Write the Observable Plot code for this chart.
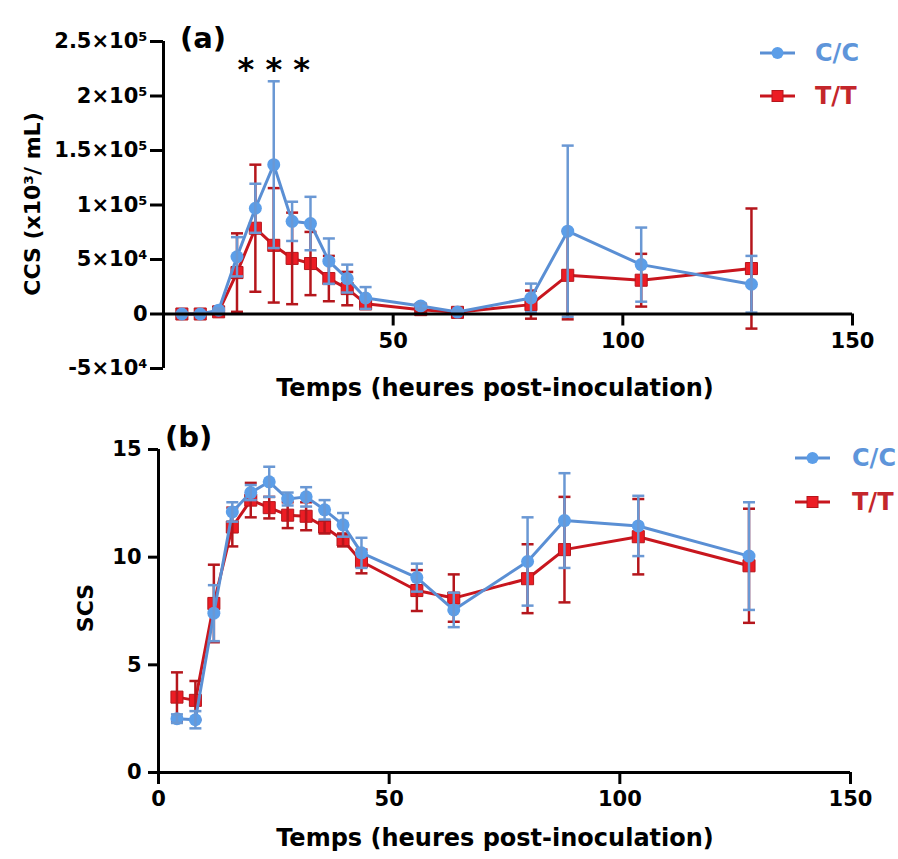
<!DOCTYPE html>
<html><head><meta charset="utf-8">
<script src="https://cdn.jsdelivr.net/npm/d3@7"></script>
<script src="https://cdn.jsdelivr.net/npm/@observablehq/plot@0.6"></script>
<style>
html,body{margin:0;padding:0;background:#fff;overflow:hidden;}
#wrap{position:relative;width:898px;height:859px;font-family:"DejaVu Sans",sans-serif;font-weight:bold;}
.abs{position:absolute;white-space:nowrap;line-height:1;}
.rot{transform:translate(-50%,-50%) rotate(-90deg);}
.ctr{transform:translate(-50%,-50%);}
.vmid{transform:translateY(-50%);}
</style></head><body>
<div id="wrap">
  <div id="pa" class="abs" style="left:0;top:0"></div>
  <div id="pb" class="abs" style="left:0;top:400px"></div>
</div>
<script>
// ---------- data ----------
const times = [4, 8, 12, 16, 20, 24, 28, 32, 36, 40, 44, 56, 64, 80, 88, 104, 128];
const series = ["C/C", "T/T"];

// Panel (a) CCS
const ccsCCMean = [0, 0, 3500, 52500, 97000, 137000, 85000, 83000, 48500, 32500, 14700, 7400, 1800, 14700, 76000, 45300, 27300];
const ccsCCSd   = [800, 800, 1500, 18000, 22500, 76500, 18000, 24500, 20800, 12800, 10000, 2500, 1200, 13200, 78500, 34000, 26000];
const ccsTTMean = [0, 0, 2000, 38000, 78700, 63000, 51000, 46300, 32500, 23300, 9500, 4000, 1500, 8600, 35500, 31000, 41700];
const ccsTTSd   = [500, 500, 1500, 36000, 58300, 52500, 42000, 29000, 20800, 15300, 5000, 2500, 1200, 12900, 40400, 24200, 55100];

// Panel (b) SCS
const scsCCMean = [2.5, 2.45, 7.4, 12.1, 13.0, 13.5, 12.7, 12.8, 12.2, 11.5, 10.2, 9.05, 7.55, 9.8, 11.7, 11.45, 10.05];
const scsCCSd   = [0.2, 0.4, 1.3, 0.45, 0.35, 0.7, 0.3, 0.45, 0.45, 0.55, 0.7, 0.65, 0.8, 2.05, 2.2, 1.4, 2.5];
const scsTTMean = [3.5, 3.35, 7.85, 11.4, 12.65, 12.3, 11.95, 11.9, 11.4, 10.8, 9.8, 8.45, 8.1, 9.0, 10.35, 10.95, 9.6];
const scsTTSd   = [1.15, 0.9, 1.8, 0.9, 0.8, 0.5, 0.6, 0.65, 0.3, 0.3, 0.55, 0.95, 1.1, 1.6, 2.45, 1.75, 2.65];

// ticks / labels
const xTicksA = [50, 100, 150];
const xTicksB = [0, 50, 100, 150];
const yTicksA = [-50000, 0, 50000, 100000, 150000, 200000, 250000];
const yTickLabelsA = ["-5×10⁴", "0", "5×10⁴", "1×10⁵", "1.5×10⁵", "2×10⁵", "2.5×10⁵"];
const yTicksB = [0, 5, 10, 15];
const xDomain = [0, 150];
const yDomainA = [-50000, 250000];
const yDomainB = [0, 15];
const stars = [{t: 24, y: 224000, label: "* * *"}];

const xTitle = "Temps (heures post-inoculation)";
const yTitleA = "CCS (x10³/ mL)";
const yTitleB = "SCS";
const panelLabels = ["(a)", "(b)"];

// ---------- styles ----------
const blue = "#5c9ee8", blueLine = "#5a8fd4", blueErr = "#6a98d4";
const red = "#ec1c24", redLine = "#c8161e", redErr = "#b5161c";
const FONT = "'DejaVu Sans', sans-serif";

const cap = {draw(ctx, size) { const w = Math.sqrt(size / Math.PI); ctx.moveTo(-w, 0); ctx.lineTo(w, 0); }};

function table(mean, sd) { return times.map((t, i) => ({t, m: mean[i], lo: mean[i] - sd[i], hi: mean[i] + sd[i]})); }

function seriesMarks(d, line, err, fill, symbol, r, strokeMarker) {
  return [
    Plot.line(d, {x: "t", y: "m", stroke: line, strokeWidth: 3}),
    Plot.dot(d, {x: "t", y: "m", symbol, r, fill, stroke: strokeMarker, strokeWidth: 1}),
    Plot.ruleX(d, {x: "t", y1: "lo", y2: "hi", stroke: err, strokeWidth: 2.5}),
    Plot.dot(d, {x: "t", y: "lo", symbol: cap, r: 6, fill: "none", stroke: err, strokeWidth: 2.5}),
    Plot.dot(d, {x: "t", y: "hi", symbol: cap, r: 6, fill: "none", stroke: err, strokeWidth: 2.5})
  ];
}

// ---------- panel (a) ----------
const hA = 400, mtA = 41, mbA = 32, mlA = 163, mrA = 46;
const yPix0A = d3.scaleLinear(yDomainA, [hA - mbA, mtA])(0);
const dyA = yPix0A - (hA - mbA);

const plotA = Plot.plot({
  width: 898, height: hA, marginTop: mtA, marginBottom: mbA, marginLeft: mlA, marginRight: mrA,
  style: {fontFamily: FONT, background: "transparent", overflow: "visible"},
  x: {domain: xDomain},
  y: {domain: yDomainA},
  marks: [
    ...seriesMarks(table(ccsTTMean, ccsTTSd), redLine, redErr, red, "square", 6.8, redErr),
    ...seriesMarks(table(ccsCCMean, ccsCCSd), blueLine, blueErr, blue, "circle", 6.5, "none"),
    Plot.ruleY([0], {strokeWidth: 3}),
    Plot.ruleX([0], {strokeWidth: 3}),
    Plot.axisY(yTicksA, {anchor: "left", tickSize: 13, tickPadding: 3, strokeWidth: 3, fontSize: 21, fontWeight: "bold",
      tickFormat: d => yTickLabelsA[yTicksA.indexOf(d)], label: null}),
    Plot.axisX(xTicksA, {anchor: "bottom", dy: dyA, tickSize: 12, tickPadding: 7, strokeWidth: 3, fontSize: 21, fontWeight: "bold", label: null}),
    Plot.text(stars, {x: "t", y: "y", text: "label", fontSize: 32, fontWeight: "bold", fill: "black"})
  ]
});
document.getElementById("pa").appendChild(plotA);

// ---------- panel (b) ----------
const hB = 459, mtB = 49, mbB = 87, mlB = 158, mrB = 48;
const plotB = Plot.plot({
  width: 898, height: hB, marginTop: mtB, marginBottom: mbB, marginLeft: mlB, marginRight: mrB,
  style: {fontFamily: FONT, background: "transparent", overflow: "visible"},
  x: {domain: xDomain},
  y: {domain: yDomainB},
  marks: [
    ...seriesMarks(table(scsTTMean, scsTTSd), redLine, redErr, red, "square", 6.8, redErr),
    ...seriesMarks(table(scsCCMean, scsCCSd), blueLine, blueErr, blue, "circle", 6.5, "none"),
    Plot.ruleY([0], {strokeWidth: 3}),
    Plot.ruleX([0], {strokeWidth: 3}),
    Plot.axisY(yTicksB, {anchor: "left", tickSize: 10, tickPadding: 7, strokeWidth: 3, fontSize: 21, fontWeight: "bold", label: null}),
    Plot.axisX(xTicksB, {anchor: "bottom", tickSize: 12, tickPadding: 7, strokeWidth: 3, fontSize: 21, fontWeight: "bold", label: null})
  ]
});
document.getElementById("pb").appendChild(plotB);

// ---------- titles, labels, legends (HTML) ----------
const wrap = document.getElementById("wrap");
function addText(txt, cls, style) {
  const el = document.createElement("div");
  el.className = "abs " + cls;
  el.textContent = txt;
  Object.assign(el.style, style);
  wrap.appendChild(el);
  return el;
}
addText(yTitleA, "rot", {left: "33px", top: "204px", fontSize: "22px"});
addText(yTitleB, "rot", {left: "86px", top: "608px", fontSize: "22px"});
addText(xTitle, "ctr", {left: "495px", top: "388px", fontSize: "24px"});
addText(xTitle, "ctr", {left: "495px", top: "838px", fontSize: "24px"});
addText(panelLabels[0], "vmid", {left: "180px", top: "38px", fontSize: "29px"});
addText(panelLabels[1], "vmid", {left: "165px", top: "437px", fontSize: "29px"});

function legend(x, ys, textX) {
  series.forEach((s, i) => {
    const isCC = s === "C/C";
    const svgNS = "http://www.w3.org/2000/svg";
    const svg = document.createElementNS(svgNS, "svg");
    svg.setAttribute("width", 40); svg.setAttribute("height", 20);
    svg.style.position = "absolute"; svg.style.left = (x - 2) + "px"; svg.style.top = (ys[i] - 10) + "px";
    const ln = document.createElementNS(svgNS, "line");
    ln.setAttribute("x1", 2); ln.setAttribute("x2", 37); ln.setAttribute("y1", 10); ln.setAttribute("y2", 10);
    ln.setAttribute("stroke", isCC ? blueLine : redLine); ln.setAttribute("stroke-width", 3);
    svg.appendChild(ln);
    let mk;
    if (isCC) { mk = document.createElementNS(svgNS, "circle"); mk.setAttribute("cx", 19.5); mk.setAttribute("cy", 10); mk.setAttribute("r", 6); mk.setAttribute("fill", blue); }
    else { mk = document.createElementNS(svgNS, "rect"); mk.setAttribute("x", 14); mk.setAttribute("y", 4.5); mk.setAttribute("width", 11); mk.setAttribute("height", 11); mk.setAttribute("fill", red); mk.setAttribute("stroke", redErr); }
    svg.appendChild(mk);
    wrap.appendChild(svg);
    addText(s, "vmid", {left: textX + "px", top: ys[i] + "px", fontSize: "24px", color: isCC ? "#5e95da" : "#c4262b"});
  });
}
legend(760, [53, 96], 815);
legend(795, [458, 502], 852);
</script>
</body></html>
